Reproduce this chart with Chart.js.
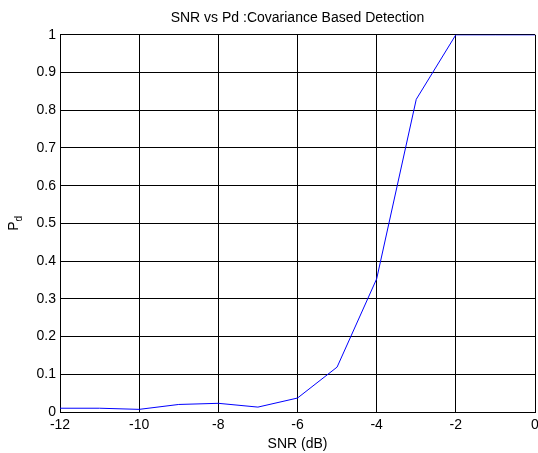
<!DOCTYPE html>
<html>
<head>
<meta charset="utf-8">
<script src="https://cdn.jsdelivr.net/npm/chart.js@4/dist/chart.umd.min.js"></script>
<style>
html,body{margin:0;padding:0;background:#fff;}
#wrap{width:538px;height:453px;position:relative;}
</style>
</head>
<body>
<div id="wrap"><canvas id="c" width="538" height="453"></canvas></div>
<script>
const snr = [-12, -11, -10, -9, -8, -7, -6, -5, -4, -3, -2, -1, 0];
const pd  = [0.010, 0.010, 0.007, 0.020, 0.023, 0.013, 0.037, 0.119, 0.353, 0.829, 1.0, 1.0, 1.0];
const xTicks = [-12, -10, -8, -6, -4, -2, 0];
const yTicks = [0, 0.1, 0.2, 0.3, 0.4, 0.5, 0.6, 0.7, 0.8, 0.9, 1];
const titleText = 'SNR vs Pd :Covariance Based Detection';
const xLabel = 'SNR (dB)';
const yLabelMain = 'P';
const yLabelSub = 'd';

const FONT = '"Liberation Sans", Arial, sans-serif';

const helperPlugin = {
  id: 'helper',
  afterLayout(chart) {
    const tb = chart.titleBlock;
    if (tb) {
      tb.left = chart.chartArea.left;
      tb.right = chart.chartArea.right;
    }
  },
  afterDraw(chart) {
    const ctx = chart.ctx;
    const area = chart.chartArea;
    const cy = (area.top + area.bottom) / 2;
    ctx.save();
    ctx.translate(18, cy);
    ctx.rotate(-Math.PI / 2);
    ctx.fillStyle = '#000';
    ctx.textBaseline = 'alphabetic';
    ctx.font = '14px ' + FONT;
    const wP = ctx.measureText(yLabelMain).width;
    ctx.font = '10px ' + FONT;
    const wd = ctx.measureText(yLabelSub).width;
    const total = wP + wd;
    ctx.font = '14px ' + FONT;
    ctx.textAlign = 'left';
    ctx.fillText(yLabelMain, -total / 2, 0);
    ctx.font = '10px ' + FONT;
    ctx.fillText(yLabelSub, -total / 2 + wP, 3.5);
    ctx.restore();
  }
};

new Chart(document.getElementById('c'), {
  type: 'line',
  data: {
    datasets: [{
      data: snr.map((x, i) => ({x: x, y: pd[i]})),
      borderColor: '#0000ff',
      borderWidth: 1,
      pointRadius: 0,
      fill: false,
      tension: 0
    }]
  },
  options: {
    responsive: false,
    animation: false,
    layout: {padding: {left: 0, right: 3, top: 0, bottom: 0}},
    plugins: {
      legend: {display: false},
      tooltip: {enabled: false},
      title: {
        display: true,
        text: titleText,
        color: '#000',
        font: {family: FONT, size: 14, weight: 'normal'},
        padding: {top: 10, bottom: 8}
      }
    },
    scales: {
      x: {
        type: 'linear',
        min: -12, max: 0,
        afterBuildTicks: s => { s.ticks = xTicks.map(v => ({value: v})); },
        afterFit: s => { s.height = 41; s.paddingLeft = 0; s.paddingRight = 0; },
        ticks: {color: '#000', font: {family: FONT, size: 14}, padding: 5, maxRotation: 0, autoSkip: false},
        grid: {color: '#000', lineWidth: 1, drawTicks: false},
        border: {color: '#000', width: 1},
        title: {display: true, text: xLabel, color: '#000', font: {family: FONT, size: 14}, padding: {top: 0, bottom: 0}}
      },
      y: {
        type: 'linear',
        min: 0, max: 1,
        afterBuildTicks: s => { s.ticks = yTicks.map(v => ({value: v})); },
        afterFit: s => { s.width = 60; s.paddingTop = 0; s.paddingBottom = 0; },
        ticks: {color: '#000', font: {family: FONT, size: 14}, padding: 4, autoSkip: false,
          callback: v => String(Math.round(v * 10) / 10)},
        grid: {color: '#000', lineWidth: 1, drawTicks: false},
        border: {color: '#000', width: 1}
      }
    }
  },
  plugins: [helperPlugin]
});
</script>
</body>
</html>
